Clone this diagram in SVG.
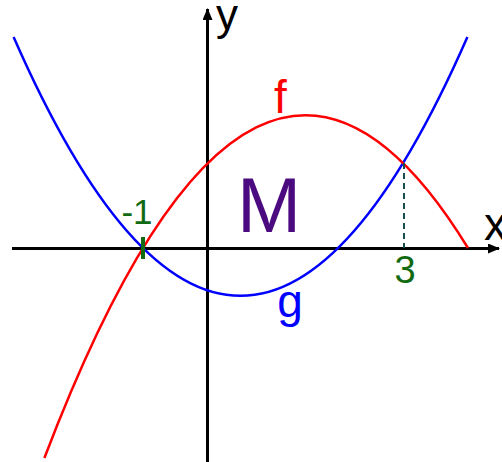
<svg xmlns="http://www.w3.org/2000/svg" width="502" height="462" viewBox="0 0 502 462">
<style>
text{font-family:"Liberation Sans",Arial,sans-serif}
.axis{stroke:#000;stroke-width:3;fill:none}
.curve{fill:none;stroke-width:2.5}
.lbl-green{fill:#116a11}
</style>
<defs>
<marker id="arr" viewBox="0 0 12 10" refX="11" refY="5" markerWidth="12" markerHeight="10" markerUnits="userSpaceOnUse" orient="auto">
<path d="M0,0 L12,5 L0,10 Z" fill="#000"/>
</marker>
</defs>
<rect width="502" height="462" fill="#fff"/>
<g id="connectors">
<line id="x-axis" class="axis" x1="12" y1="248.5" x2="499" y2="248.5" marker-end="url(#arr)"/>
<line id="y-axis" class="axis" x1="207.5" y1="462" x2="207.5" y2="9" marker-end="url(#arr)"/>
<path id="curve-g" class="curve" stroke="#0000ff" d="M13.6,37 Q240.5,554.7 467.4,37"/>
<path id="curve-f" class="curve" stroke="#ff0000" d="M44.4,458 Q256.2,-98.2 468,248"/>
<line id="dash3" x1="404" y1="163" x2="404" y2="248" stroke="#1a4d4d" stroke-width="2" stroke-dasharray="6,4"/>
<line id="tick-1" x1="143" y1="237" x2="143" y2="259" stroke="#116a11" stroke-width="4"/>
</g>
<g id="label-y"><text x="216" y="30" font-size="44">y</text></g>
<g id="label-x"><text x="484" y="240" font-size="46">x</text></g>
<g id="label-f"><text x="274" y="113" font-size="46" fill="#ff0000">f</text></g>
<g id="label-g"><text x="290" y="317" font-size="46" fill="#0000ff" text-anchor="middle">g</text></g>
<g id="label-M"><text x="269" y="232" font-size="77" fill="#4b0a80" text-anchor="middle">M</text></g>
<g id="label-m1"><text class="lbl-green" x="137" y="224" font-size="35" text-anchor="middle">-1</text></g>
<g id="label-3"><text class="lbl-green" x="405" y="283" font-size="38" text-anchor="middle">3</text></g>
</svg>
